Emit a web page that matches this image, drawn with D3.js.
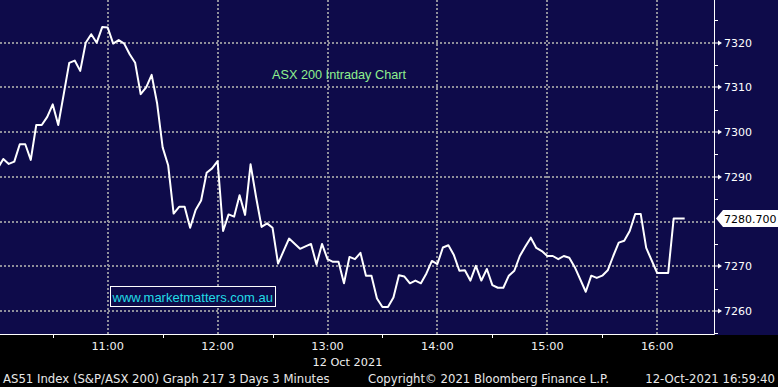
<!DOCTYPE html>
<html>
<head>
<meta charset="utf-8">
<script src="https://cdn.jsdelivr.net/npm/d3@7"></script>
<style>
  html, body { margin: 0; padding: 0; background: #000; }
  svg { display: block; }
</style>
</head>
<body>
<svg id="chart" width="778" height="387"></svg>
<script>
// ---- data (ASX 200, 3-minute bars, 12 Oct 2021) ----
const times = ["10:00","10:03","10:06","10:09","10:12","10:15","10:18","10:21","10:24","10:27",
  "10:30","10:33","10:36","10:39","10:42","10:45","10:48","10:51","10:54","10:57",
  "11:00","11:03","11:06","11:09","11:12","11:15","11:18","11:21","11:24","11:27",
  "11:30","11:33","11:36","11:39","11:42","11:45","11:48","11:51","11:54","11:57",
  "12:00","12:03","12:06","12:09","12:12","12:15","12:18","12:21","12:24","12:27",
  "12:30","12:33","12:39","12:45","12:51","12:54","12:57",
  "13:00","13:03","13:06","13:09","13:12","13:15","13:18","13:21","13:24","13:27",
  "13:30","13:33","13:36","13:39","13:42","13:45","13:48","13:51","13:54","13:57",
  "14:00","14:03","14:06","14:09","14:12","14:15","14:18","14:21","14:24","14:27",
  "14:30","14:33","14:36","14:39","14:42","14:45","14:48","14:51","14:54","14:57",
  "15:00","15:03","15:06","15:09","15:12","15:15","15:21","15:24","15:27",
  "15:30","15:33","15:36","15:39","15:42","15:45","15:48","15:51","15:54",
  "16:00","16:06","16:09","16:15"];
const prices = [7291.9,7294.0,7292.9,7293.4,7297.3,7297.3,7293.8,7301.6,7301.6,7303.4,
  7306.2,7301.6,7308.5,7315.5,7316.0,7313.7,7320.0,7321.9,7320.0,7323.5,
  7323.4,7319.8,7320.6,7319.8,7317.4,7315.5,7308.5,7310.0,7312.8,7306.4,
  7296.6,7292.6,7281.8,7283.3,7283.3,7278.6,7282.6,7284.7,7290.9,7291.9,
  7293.5,7277.9,7281.6,7281.1,7285.9,7281.5,7292.8,7285.5,7278.8,7279.6,
  7278.6,7270.6,7276.2,7273.9,7275.0,7270.4,7275.0,
  7271.6,7271.0,7271.0,7266.2,7272.1,7271.6,7273.0,7267.9,7267.9,7262.8,
  7260.9,7260.9,7263.0,7268.0,7267.7,7266.2,7266.8,7266.2,7268.4,7271.2,
  7270.5,7274.2,7274.7,7272.5,7269.0,7269.1,7266.8,7270.1,7266.8,7269.4,
  7265.8,7265.2,7265.2,7267.9,7269.0,7272.3,7274.4,7276.4,7274.1,7273.4,
  7272.3,7272.3,7271.6,7272.3,7271.9,7269.8,7264.3,7267.9,7267.4,
  7267.9,7269.1,7272.3,7275.3,7275.7,7277.9,7281.7,7281.7,7274.1,
  7268.5,7268.5,7280.7,7280.7];
const lastValue = 7280.700;
const hourTicks = ["11:00","12:00","13:00","14:00","15:00","16:00"];
const halfHourTicks = ["10:30","11:30","12:30","13:30","14:30","15:30"];
const priceMajorTicks = [7260,7270,7280,7290,7300,7310,7320];
const priceMinorTicks = [7255,7265,7275,7285,7295,7305,7315,7325];
const dateLabel = "12 Oct 2021";
const titleText = "ASX 200 Intraday Chart";
const watermark = "www.marketmatters.com.au";
const footerLeft = "AS51 Index (S&P/ASX 200) Graph 217 3 Days 3 Minutes";
const footerMid = "Copyright\u00A9 2021 Bloomberg Finance L.P.";
const footerRight = "12-Oct-2021 16:59:40";

// ---- layout ----
const W = 778, H = 387;
const plotR = 714, plotB = 334;
const parseT = d3.timeParse("%H:%M");
const data = times.map((t, i) => ({ t: parseT(t), v: prices[i] }));

const x = d3.scaleTime().domain([parseT("10:00"), parseT("16:00")]).range([-2.2, 657.2]);
const y = d3.scaleLinear().domain([7260, 7320]).range([311, 42.7]);

const svg = d3.select("#chart");
const navy = "#0e0b4a";
const gridCol = "#8f8f9a";
const axisFont = "'DejaVu Sans', Verdana, sans-serif";

svg.append("rect").attr("x", 0).attr("y", 0).attr("width", W).attr("height", H).attr("fill", "#000");
svg.append("rect").attr("x", 0).attr("y", 0).attr("width", W).attr("height", plotB + 1).attr("fill", navy);

svg.append("defs").append("clipPath").attr("id", "plotclip")
  .append("rect").attr("x", 0).attr("y", 0).attr("width", plotR).attr("height", plotB);

// gridlines
const grid = svg.append("g").attr("stroke", gridCol).attr("stroke-width", 2).attr("stroke-dasharray", "2,2");
grid.selectAll("line.h").data(priceMajorTicks).join("line")
  .attr("x1", 0).attr("x2", plotR)
  .attr("y1", d => Math.round(y(d))).attr("y2", d => Math.round(y(d)));
grid.selectAll("line.v").data(hourTicks).join("line")
  .attr("x1", d => Math.round(x(parseT(d)))).attr("x2", d => Math.round(x(parseT(d))))
  .attr("y1", 0).attr("y2", plotB);

// title
svg.append("text").attr("x", 272).attr("y", 79)
  .attr("font-family", "'Liberation Sans', Arial, sans-serif").attr("font-size", 12.7)
  .attr("fill", "#8ef08e").text(titleText);

// watermark box
svg.append("rect").attr("x", 110.5).attr("y", 286.5).attr("width", 165).attr("height", 20)
  .attr("fill", navy).attr("stroke", "#ffffff").attr("stroke-width", 1);
svg.append("text").attr("x", 112.5).attr("y", 301.5)
  .attr("font-family", "'Liberation Sans', Arial, sans-serif").attr("font-size", 13)
  .attr("fill", "#22dce6").text(watermark);

// price line
const line = d3.line().x(d => x(d.t)).y(d => y(d.v));
svg.append("path").datum(data).attr("clip-path", "url(#plotclip)")
  .attr("d", line).attr("fill", "none").attr("stroke", "#ffffff")
  .attr("stroke-width", 2).attr("stroke-linejoin", "round");

// axes frame
svg.append("line").attr("x1", 0).attr("x2", plotR + 0.5).attr("y1", plotB + 0.5).attr("y2", plotB + 0.5)
  .attr("stroke", "#fff").attr("stroke-width", 1);
svg.append("line").attr("x1", plotR + 0.5).attr("x2", plotR + 0.5).attr("y1", 0).attr("y2", plotB + 0.5)
  .attr("stroke", "#fff").attr("stroke-width", 1);

// right axis ticks
const ra = svg.append("g");
ra.selectAll("line.minor").data(priceMinorTicks).join("line")
  .attr("x1", plotR).attr("x2", plotR + 4)
  .attr("y1", d => Math.round(y(d)) + 0.5).attr("y2", d => Math.round(y(d)) + 0.5)
  .attr("stroke", "#fff");
ra.selectAll("path.arrow").data(priceMajorTicks.filter(d => d !== 7280)).join("path")
  .attr("d", d => { const yy = Math.round(y(d)); return `M${plotR},${yy - 0.5}L${plotR + 4},${yy - 0.5}L${plotR + 4},${yy - 2.5}L${plotR + 8},${yy}L${plotR + 4},${yy + 2.5}L${plotR + 4},${yy + 0.5}L${plotR},${yy + 0.5}Z`; })
  .attr("fill", "#fff");
ra.selectAll("text").data(priceMajorTicks.filter(d => d !== 7280)).join("text")
  .attr("x", plotR + 10).attr("y", d => y(d) + 4)
  .attr("font-family", axisFont).attr("font-size", 11).attr("fill", "#fff")
  .text(d => d);

// last value marker
const ly = y(lastValue);
svg.append("path")
  .attr("d", `M${plotR + 2},${ly}L${plotR + 9},${ly - 8.5}L${W},${ly - 8.5}L${W},${ly + 8.5}L${plotR + 9},${ly + 8.5}Z`)
  .attr("fill", "#fff");
svg.append("text").attr("x", plotR + 10).attr("y", ly + 4.5)
  .attr("font-family", axisFont).attr("font-size", 11).attr("fill", "#000")
  .text(d3.format(".3f")(lastValue));

// bottom axis
const ba = svg.append("g");
ba.selectAll("line").data(halfHourTicks).join("line")
  .attr("x1", d => Math.round(x(parseT(d))) + 0.5).attr("x2", d => Math.round(x(parseT(d))) + 0.5)
  .attr("y1", plotB).attr("y2", plotB + 4).attr("stroke", "#fff");
ba.selectAll("text").data(hourTicks).join("text")
  .attr("x", d => x(parseT(d))).attr("y", 350).attr("text-anchor", "middle")
  .attr("font-family", axisFont).attr("font-size", 11.3).attr("fill", "#f0f0f0")
  .text(d => d);
svg.append("text").attr("x", 312.5).attr("y", 366)
  .attr("font-family", axisFont).attr("font-size", 11.3).attr("fill", "#f0f0f0").text(dateLabel);

// footer
const ft = svg.append("g").attr("font-family", axisFont).attr("font-size", 11.7).attr("fill", "#e8e8e8");
ft.append("text").attr("x", 3).attr("y", 382.5).text(footerLeft);
ft.append("text").attr("x", 368).attr("y", 382.5).text(footerMid);
ft.append("text").attr("x", 775).attr("y", 382.5).attr("text-anchor", "end").text(footerRight);
</script>
</body>
</html>
